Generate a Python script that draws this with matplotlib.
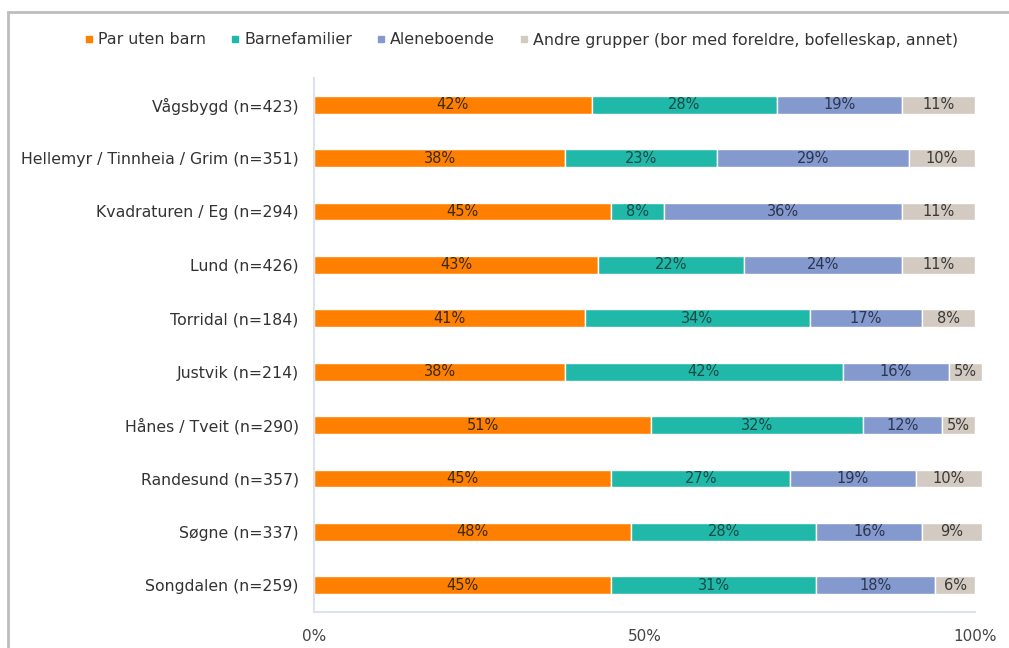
import matplotlib
matplotlib.use("Agg")
import matplotlib.pyplot as plt
from matplotlib.patches import Rectangle
from matplotlib.lines import Line2D
import numpy as np

plt.rcParams['font.family'] = ['DejaVu Sans']

categories = ["Vågsbygd (n=423)", "Hellemyr / Tinnheia / Grim (n=351)", "Kvadraturen / Eg (n=294)",
              "Lund (n=426)", "Torridal (n=184)", "Justvik (n=214)", "Hånes / Tveit (n=290)",
              "Randesund (n=357)", "Søgne (n=337)", "Songdalen (n=259)"]
series_names = ["Par uten barn", "Barnefamilier", "Aleneboende",
                "Andre grupper (bor med foreldre, bofelleskap, annet)"]
par_uten_barn = [42, 38, 45, 43, 41, 38, 51, 45, 48, 45]
barnefamilier = [28, 23, 8, 22, 34, 42, 32, 27, 28, 31]
aleneboende = [19, 29, 36, 24, 17, 16, 12, 19, 16, 18]
andre = [11, 10, 11, 11, 8, 5, 5, 10, 9, 6]
x_ticks = [0, 50, 100]
x_tick_labels = ["0%", "50%", "100%"]

colors = ["#FF7F00", "#1FB8A9", "#8499CE", "#D3CAC1"]
text_colors = ["#3a2a10", "#1d4a44", "#2e3550", "#3a3a3a"]

fig = plt.figure(figsize=(10.09, 6.48), dpi=100)
ax = fig.add_axes([314/1009, 1 - 612/648, (975-314)/1009, (612-78)/648])

data = [par_uten_barn, barnefamilier, aleneboende, andre]
y = np.arange(len(categories))
left = np.zeros(len(categories))
for vals, c, tc, name in zip(data, colors, text_colors, series_names):
    vals = np.array(vals, dtype=float)
    bars = ax.barh(y, vals, left=left, height=0.33, color=c, edgecolor="white", linewidth=1, label=name)
    for b in bars:
        b.set_clip_on(False)
    for yi, l, v in zip(y, left, vals):
        ax.text(l + v/2, yi, f"{int(v)}%", ha="center", va="center", fontsize=10.5, color=tc)
    left += vals

ax.set_ylim(len(categories) - 0.5, -0.5)
ax.set_xlim(0, 100)
ax.set_yticks(y)
ax.set_yticklabels(categories, fontsize=11.3, color="#333333")
ax.set_xticks(x_ticks)
ax.set_xticklabels(x_tick_labels, fontsize=11, color="#444444")
ax.tick_params(axis="both", length=0)
ax.tick_params(axis="y", pad=11)
ax.tick_params(axis="x", pad=12)
for s in ["top", "right"]:
    ax.spines[s].set_visible(False)
ax.spines["left"].set_color("#DCE3EE")
ax.spines["bottom"].set_color("#DCE3EE")
ax.spines["left"].set_linewidth(1.5)
ax.spines["bottom"].set_linewidth(1.5)

handles = [Line2D([0], [0], marker="s", linestyle="", markersize=4, color=c) for c in colors]
fig.legend(handles, series_names, loc="center", bbox_to_anchor=(519/1009, 1 - 40/648),
           ncol=4, frameon=False, fontsize=11.4, handletextpad=0.0, handlelength=1.2,
           columnspacing=1.2, labelcolor="#333333")

border = Rectangle((8/1009, -0.1), 1.2, 1 - 12/648 + 0.1, transform=fig.transFigure,
                   fill=False, edgecolor="#BDBDBD", linewidth=2, clip_on=False)
fig.patches.append(border)

fig.savefig("out.png", dpi=100)
